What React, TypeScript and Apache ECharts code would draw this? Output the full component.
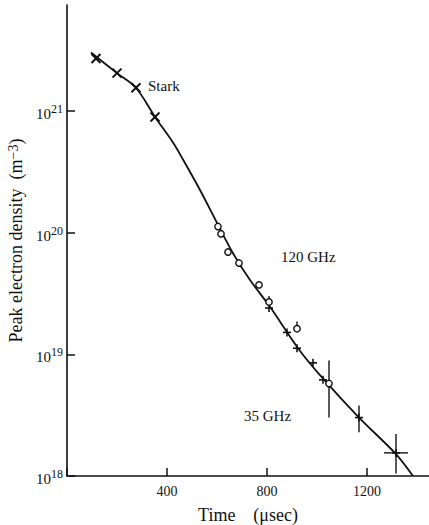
import React, { useEffect, useRef } from "react";
import * as echarts from "echarts";

// Fitted curve (time in µs, log10 of density in m^-3)
const curveTime = [96, 200, 276, 352, 424, 464, 532, 600, 664, 732, 812, 924, 1020, 1168, 1316, 1384];
const curveLog = [21.48, 21.31, 21.19, 20.95, 20.74, 20.6, 20.35, 20.08, 19.83, 19.61, 19.39, 19.05, 18.81, 18.48, 18.18, 18.0];

// Stark measurements
const starkTime = [116, 200, 276, 352];
const starkLog = [21.43, 21.31, 21.19, 20.95];

// 120 GHz measurements (circles)
const ghz120Time = [604, 616, 644, 688, 768, 808, 920, 1048];
const ghz120Log = [20.05, 19.99, 19.84, 19.75, 19.57, 19.43, 19.21, 18.76];

// 35 GHz measurements (plus marks)
const ghz35Time = [808, 880, 920, 984, 1024, 1168, 1316];
const ghz35Log = [19.38, 19.18, 19.05, 18.93, 18.79, 18.48, 18.19];

// vertical error bars
const errTime = [808, 920, 1048, 1168, 1316];
const errLow = [19.43, 19.21, 18.48, 18.36, 18.02];
const errHigh = [19.48, 19.27, 18.95, 18.58, 18.345];

// horizontal error bar
const hErrLog = [18.19];
const hErrLow = [1268];
const hErrHigh = [1364];

// axis ticks
const yExponents = [18, 19, 20, 21];
const xTickStep = 400;

const FONT = "'Liberation Serif', 'DejaVu Serif', serif";
const INK = "#111";

export default function App() {
  const ref = useRef<HTMLDivElement>(null);

  useEffect(() => {
    if (!ref.current) return;
    const chart = echarts.init(ref.current, null, { renderer: "svg" });

    const line = (x1: number, y1: number, x2: number, y2: number, w: number) => ({
      type: "line",
      shape: { x1, y1, x2, y2 },
      style: { stroke: INK, lineWidth: w },
    });

    const option: any = {
      animation: false,
      backgroundColor: "#fff",
      grid: { left: 67, right: 0, top: 5, bottom: 49, containLabel: false, outerBoundsMode: "none" },
      xAxis: {
        type: "value",
        min: 0,
        max: 1448,
        interval: xTickStep,
        name: "Time\u00a0\u00a0\u00a0\u00a0(μsec)",
        nameLocation: "middle",
        nameGap: 30,
        nameTextStyle: { fontFamily: FONT, fontSize: 18, color: INK },
        axisLine: { lineStyle: { color: INK, width: 1.6 } },
        axisTick: { inside: true, length: 8, lineStyle: { color: INK, width: 1.5 } },
        axisLabel: {
          fontFamily: FONT,
          fontSize: 14,
          color: INK,
          margin: 8,
          showMaxLabel: false,
          formatter: (v: number) => (v === 0 ? "" : String(v)),
        },
        splitLine: { show: false },
      },
      yAxis: {
        type: "value",
        min: 18,
        max: 21.87,
        interval: 1,
        name: "Peak electron density\u00a0\u00a0(m{sup|−3})",
        nameLocation: "middle",
        nameGap: 39,
        nameRotate: 90,
        nameTextStyle: {
          fontFamily: FONT,
          fontSize: 18,
          color: INK,
          rich: { sup: { fontFamily: FONT, fontSize: 14, color: INK, padding: [0, 0, 6, 0] } },
        },
        axisLine: { lineStyle: { color: INK, width: 1.6 } },
        axisTick: { inside: true, length: 8, lineStyle: { color: INK, width: 1.5 } },
        axisLabel: {
          margin: 4,
          showMaxLabel: false,
          formatter: (v: number) =>
            yExponents.indexOf(Math.round(v)) >= 0 ? "{b|10}{s|" + Math.round(v) + "}" : "",
          rich: {
            b: { fontFamily: FONT, fontSize: 15, color: INK, padding: [6, 0, 0, 0] },
            s: { fontFamily: FONT, fontSize: 12, color: INK, padding: [0, 0, 4, 0] },
          },
        },
        splitLine: { show: false },
      },
      series: [
        {
          type: "line",
          data: curveTime.map((t, i) => [t, curveLog[i]]),
          smooth: 0.3,
          symbol: "none",
          lineStyle: { color: INK, width: 1.8 },
          z: 2,
        },
        {
          type: "custom",
          z: 3,
          data: errTime.map((t, i) => [t, errLow[i], errHigh[i]]),
          renderItem: (_p: any, api: any) => {
            const a = api.coord([api.value(0), api.value(1)]);
            const b = api.coord([api.value(0), api.value(2)]);
            return line(a[0], a[1], b[0], b[1], 1.4);
          },
        },
        {
          type: "custom",
          z: 3,
          data: hErrLog.map((v, i) => [hErrLow[i], hErrHigh[i], v]),
          renderItem: (_p: any, api: any) => {
            const a = api.coord([api.value(0), api.value(2)]);
            const b = api.coord([api.value(1), api.value(2)]);
            return line(a[0], a[1], b[0], b[1], 1.4);
          },
        },
        {
          type: "custom",
          z: 4,
          data: starkTime.map((t, i) => [t, starkLog[i]]),
          renderItem: (_p: any, api: any) => {
            const p = api.coord([api.value(0), api.value(1)]);
            const s = 4.5;
            return {
              type: "group",
              children: [
                line(p[0] - s, p[1] - s, p[0] + s, p[1] + s, 2),
                line(p[0] - s, p[1] + s, p[0] + s, p[1] - s, 2),
              ],
            };
          },
        },
        {
          type: "custom",
          z: 4,
          data: ghz35Time.map((t, i) => [t, ghz35Log[i]]),
          renderItem: (_p: any, api: any) => {
            const p = api.coord([api.value(0), api.value(1)]);
            const s = 4;
            return {
              type: "group",
              children: [
                line(p[0] - s, p[1], p[0] + s, p[1], 1.6),
                line(p[0], p[1] - s, p[0], p[1] + s, 1.6),
              ],
            };
          },
        },
        {
          type: "custom",
          z: 5,
          data: ghz120Time.map((t, i) => [t, ghz120Log[i]]),
          renderItem: (_p: any, api: any) => {
            const p = api.coord([api.value(0), api.value(1)]);
            return {
              type: "circle",
              shape: { cx: p[0], cy: p[1], r: 3.2 },
              style: { fill: "#fff", stroke: INK, lineWidth: 1.4 },
            };
          },
        },
      ],
      graphic: [
        { type: "text", left: 148, top: 78, style: { text: "Stark", font: "15px " + FONT, fill: INK } },
        { type: "text", left: 281, top: 249, style: { text: "120 GHz", font: "15px " + FONT, fill: INK } },
        { type: "text", left: 244, top: 408, style: { text: "35 GHz", font: "15px " + FONT, fill: INK } },
      ],
    };

    chart.setOption(option);
    return () => chart.dispose();
  }, []);

  return (
    <div
      ref={ref}
      style={{ position: "fixed", left: 0, top: 0, width: 429, height: 525, background: "#fff" }}
    />
  );
}
